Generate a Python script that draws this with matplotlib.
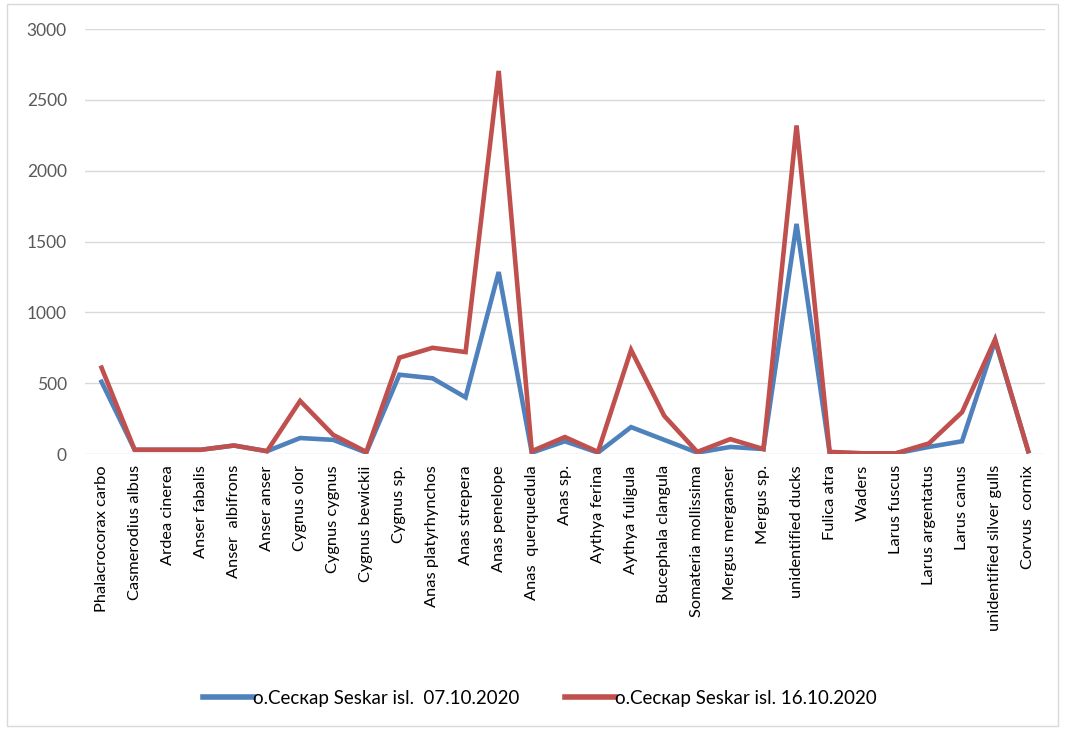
import matplotlib
matplotlib.use("Agg")
import matplotlib.pyplot as plt
from matplotlib.patches import Rectangle

species = [
    "Phalacrocorax carbo", "Casmerodius albus", "Ardea cinerea", "Anser fabalis",
    "Anser  albifrons", "Anser anser", "Cygnus olor", "Cygnus cygnus",
    "Cygnus bewickii", "Cygnus sp.", "Anas platyrhynchos", "Anas strepera",
    "Anas penelope", "Anas  querquedula", "Anas sp.", "Aythya ferina",
    "Aythya fuligula", "Bucephala clangula", "Somateria mollissima",
    "Mergus merganser", "Mergus sp.", "unidentified ducks", "Fulica atra",
    "Waders", "Larus fuscus", "Larus argentatus", "Larus canus",
    "unidentified silver gulls", "Corvus  cornix",
]
count_07_10 = [510, 30, 30, 30, 60, 20, 113, 100, 10, 560, 535, 400, 1285, 10, 90,
               10, 190, 100, 10, 50, 35, 1625, 10, 5, 5, 50, 90, 800, 20]
count_16_10 = [610, 30, 30, 30, 60, 20, 375, 135, 15, 680, 750, 720, 2705, 20, 120,
               15, 735, 270, 15, 105, 35, 2320, 15, 5, 5, 75, 295, 810, 20]

label_07 = "о.Сескар Seskar isl.  07.10.2020"
label_16 = "о.Сескар Seskar isl. 16.10.2020"

plt.rcParams["font.family"] = ["Lato", "DejaVu Sans"]

fig = plt.figure(figsize=(10.65, 7.29), dpi=100)
fig.patches.append(Rectangle((0.007, 0.004), 0.986, 0.99, transform=fig.transFigure,
                             fill=False, edgecolor="#D9D9D9", linewidth=1.0))

ax = fig.add_axes([0.0798, 0.3772, 0.9012, 0.5828])
x = list(range(len(species)))
ax.plot(x, count_07_10, color="#4F81BD", linewidth=3.3, label=label_07, solid_joinstyle="miter")
ax.plot(x, count_16_10, color="#C0504D", linewidth=3.3, label=label_16, solid_joinstyle="miter")

ax.set_xlim(-0.5, len(species) - 0.5)
ax.set_ylim(0, 3000)
ax.set_yticks(range(0, 3001, 500))
ax.yaxis.grid(True, color="#D9D9D9", linewidth=1.0)
ax.set_axisbelow(True)
for s in ax.spines.values():
    s.set_visible(False)
ax.tick_params(axis="y", length=0, pad=13, labelsize=12.5, labelcolor="#595959")
ax.set_xticks(x)
ax.set_xticklabels(species, rotation=90, fontsize=11.8, color="#000000")
ax.tick_params(axis="x", length=0, pad=8)

leg = fig.legend(loc="center", bbox_to_anchor=(0.507, 0.0425), ncol=2, frameon=False,
                 fontsize=13.5, handlelength=2.67, columnspacing=2.4, handletextpad=0.0)
for h in leg.get_lines():
    h.set_linewidth(4.0)

fig.savefig("out.png", dpi=100)
